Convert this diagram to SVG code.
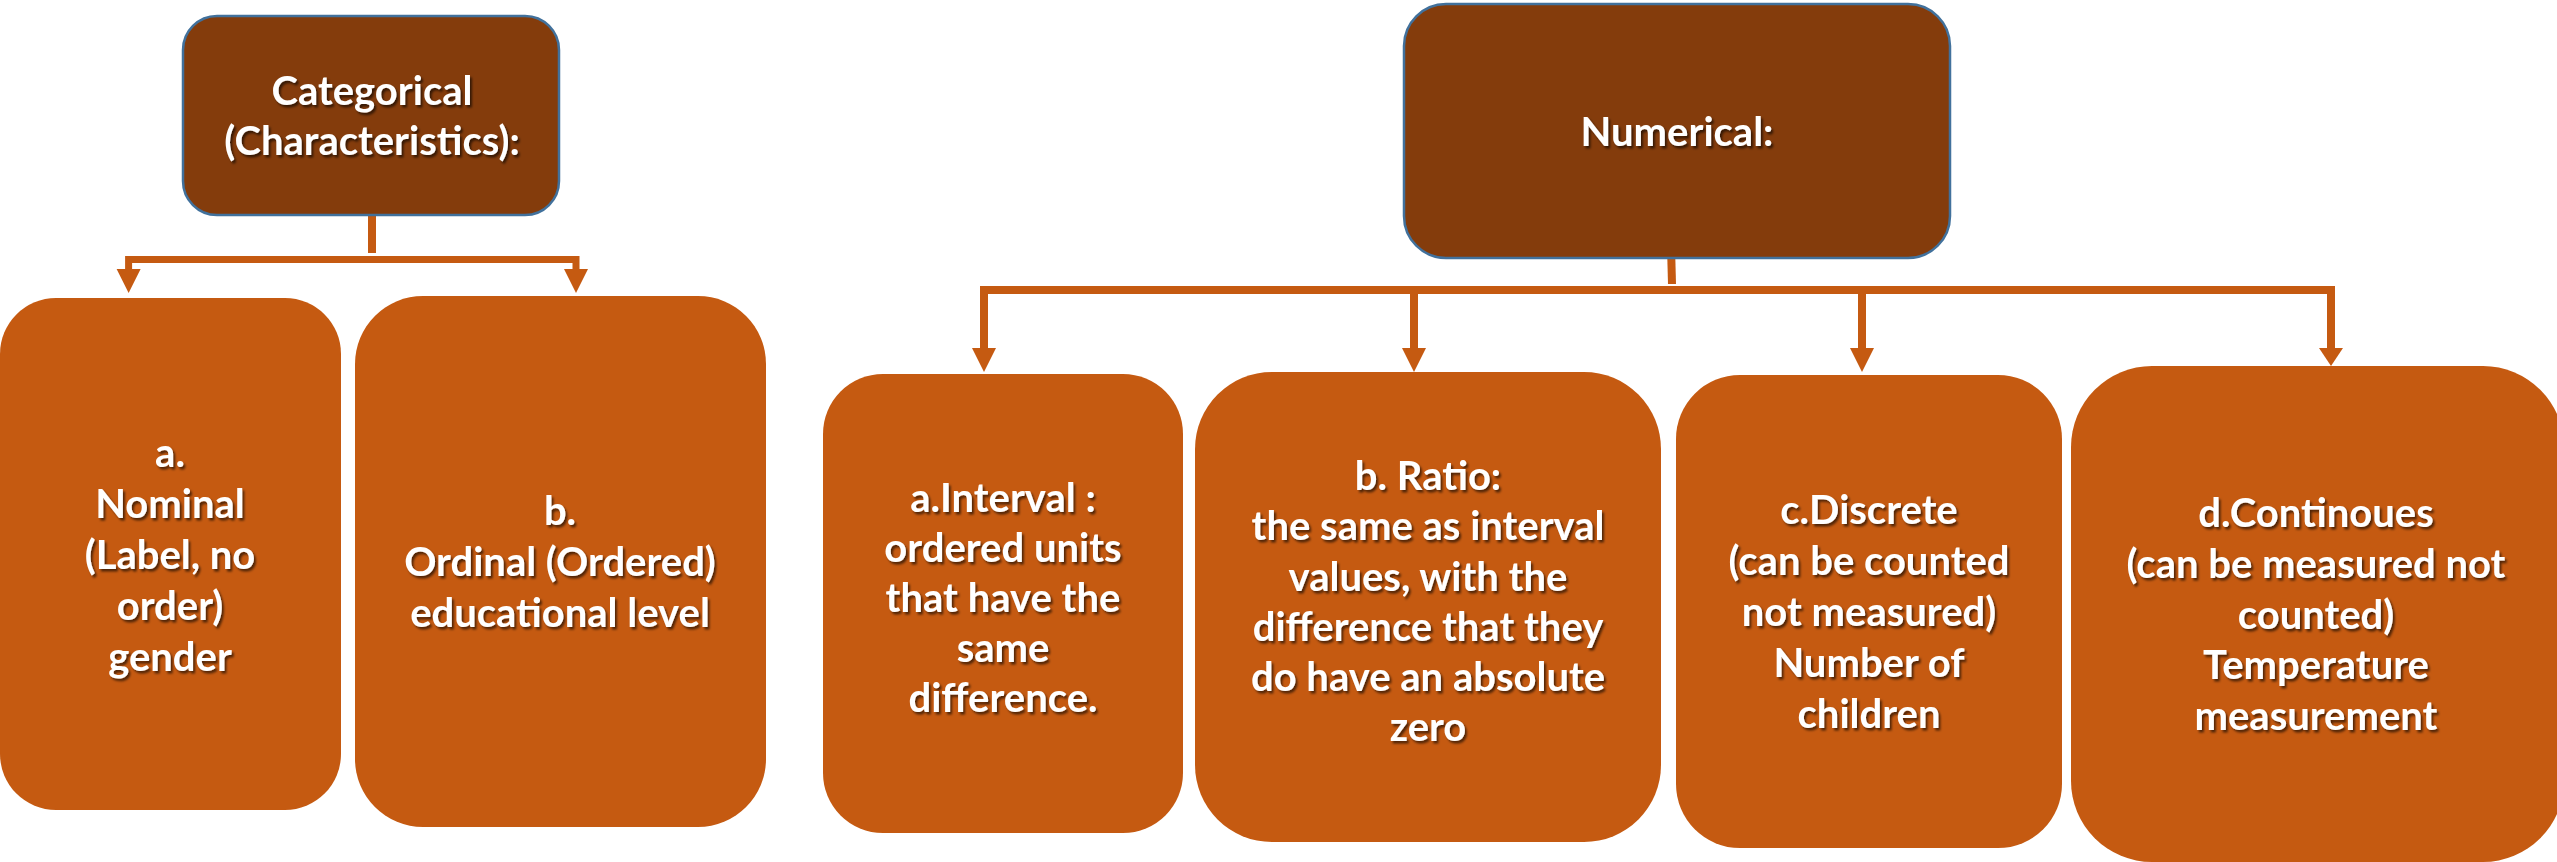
<svg xmlns="http://www.w3.org/2000/svg" width="2557" height="862" viewBox="0 0 2557 862">
  <defs>
    <filter id="shadow" x="-10%" y="-10%" width="120%" height="130%">
      <feDropShadow dx="2" dy="2.5" stdDeviation="1.2" flood-color="#000" flood-opacity="0.6"/>
    </filter>
  </defs>
  <style>
    .head { fill: #843C0C; stroke: #41719C; stroke-width: 2.5; }
    .leaf { fill: #C55A11; }
    .lbl { font-family: Lato, "Liberation Sans", sans-serif; font-weight: 700; font-size: 40px; fill: #FFFFFF; text-anchor: middle; filter: url(#shadow); }
    .conn { stroke: #C55A11; fill: none; stroke-linejoin: miter; stroke-linecap: butt; }
    .tip { fill: #C55A11; }
  </style>
  <rect width="2557" height="862" fill="#FFFFFF"/>

  <g id="connectors">
    <line class="conn" x1="372" y1="216" x2="372" y2="253" stroke-width="8"/>
    <path class="conn" d="M 128.6 269 V 259.5 H 576 V 269" stroke-width="7"/>
    <polygon class="tip" points="116.6,269 140.6,269 128.6,293"/>
    <polygon class="tip" points="564,269 588,269 576,293"/>

    <line class="conn" x1="1671" y1="246" x2="1672" y2="284" stroke-width="8"/>
    <path class="conn" d="M 984 348 V 290 H 2331 V 348" stroke-width="8"/>
    <line class="conn" x1="1414" y1="290" x2="1414" y2="348" stroke-width="8"/>
    <line class="conn" x1="1862" y1="290" x2="1862" y2="348" stroke-width="8"/>
    <polygon class="tip" points="972,348 996,348 984,372"/>
    <polygon class="tip" points="1402,348 1426,348 1414,372"/>
    <polygon class="tip" points="1850,348 1874,348 1862,372"/>
    <polygon class="tip" points="2319,348 2343,348 2331,366"/>
  </g>

  <g id="categorical">
    <rect class="head" x="183" y="16" width="376" height="199" rx="34" ry="34"/>
    <text class="lbl"><tspan x="372" y="105">Categorical</tspan><tspan x="372" y="155">(Characteristics):</tspan></text>
  </g>

  <g id="numerical">
    <rect class="head" x="1404" y="4" width="546" height="254" rx="42" ry="42"/>
    <text class="lbl" x="1677" y="146">Numerical:</text>
  </g>

  <g id="nominal">
    <rect class="leaf" x="0" y="298" width="341" height="512" rx="56" ry="56"/>
    <text class="lbl"><tspan x="170" y="467">a.</tspan><tspan x="170" y="518">Nominal</tspan><tspan x="170" y="569">(Label, no</tspan><tspan x="170" y="620">order)</tspan><tspan x="170" y="671">gender</tspan></text>
  </g>

  <g id="ordinal">
    <rect class="leaf" x="355" y="296" width="411" height="531" rx="68" ry="68"/>
    <text class="lbl"><tspan x="560" y="525">b.</tspan><tspan x="560" y="576">Ordinal (Ordered)</tspan><tspan x="560" y="627">educational level</tspan></text>
  </g>

  <g id="interval">
    <rect class="leaf" x="823" y="374" width="360" height="459" rx="60" ry="60"/>
    <text class="lbl"><tspan x="1003" y="512">a.Interval :</tspan><tspan x="1003" y="562">ordered units</tspan><tspan x="1003" y="612">that have the</tspan><tspan x="1003" y="662">same</tspan><tspan x="1003" y="712">difference.</tspan></text>
  </g>

  <g id="ratio">
    <rect class="leaf" x="1195" y="372" width="466" height="470" rx="77" ry="77"/>
    <text class="lbl"><tspan x="1428" y="490">b. Ratio:</tspan><tspan x="1428" y="540">the same as interval</tspan><tspan x="1428" y="591">values, with the</tspan><tspan x="1428" y="641">difference that they</tspan><tspan x="1428" y="691">do have an absolute</tspan><tspan x="1428" y="741">zero</tspan></text>
  </g>

  <g id="discrete">
    <rect class="leaf" x="1676" y="375" width="386" height="473" rx="64" ry="64"/>
    <text class="lbl"><tspan x="1869" y="524">c.Discrete</tspan><tspan x="1869" y="575">(can be counted</tspan><tspan x="1869" y="626">not measured)</tspan><tspan x="1869" y="677">Number of</tspan><tspan x="1869" y="728">children</tspan></text>
  </g>

  <g id="continuous">
    <rect class="leaf" x="2071" y="366" width="493" height="496" rx="81" ry="81"/>
    <text class="lbl"><tspan x="2316" y="527">d.Continoues</tspan><tspan x="2316" y="578">(can be measured not</tspan><tspan x="2316" y="629">counted)</tspan><tspan x="2316" y="679">Temperature</tspan><tspan x="2316" y="730">measurement</tspan></text>
  </g>
</svg>
